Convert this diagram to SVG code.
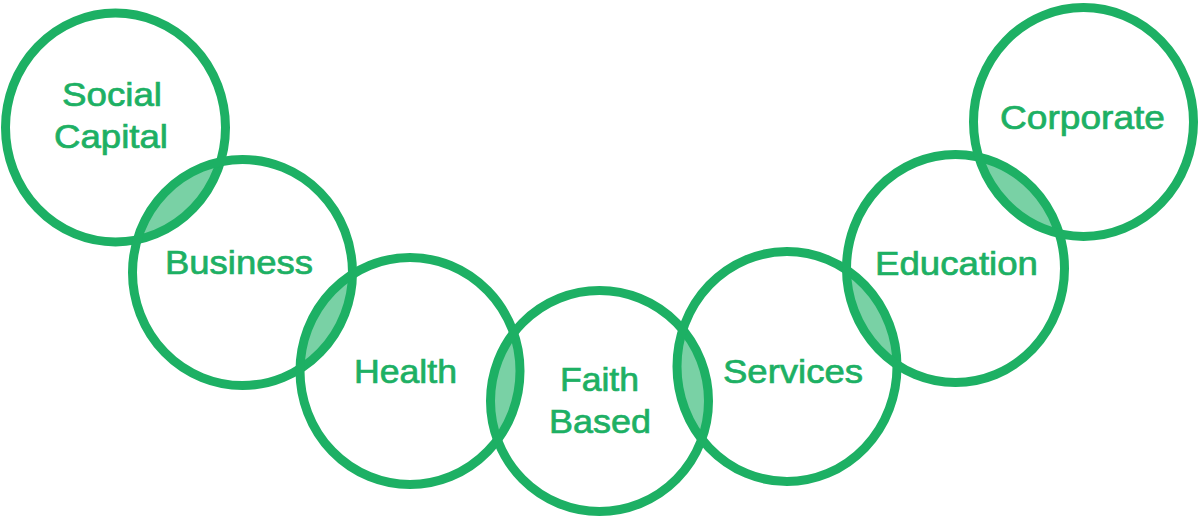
<svg xmlns="http://www.w3.org/2000/svg" width="1200" height="516" viewBox="0 0 1200 516">
<style>
.ring{fill:none;stroke:#1DB064;stroke-width:9}
.lens{fill:#79D1A5}
.lbl{font-family:"Liberation Sans",Arial,sans-serif;font-size:33px;fill:#1DB064;stroke:#1DB064;stroke-width:0.7;text-anchor:middle}
</style>
<defs>
<clipPath id="c1"><ellipse cx="115.5" cy="127.5" rx="110" ry="114.5"/></clipPath>
<clipPath id="c2"><ellipse cx="242.5" cy="272.5" rx="110" ry="113"/></clipPath>
<clipPath id="c3"><ellipse cx="410" cy="371" rx="110" ry="113.5"/></clipPath>
<clipPath id="c4"><ellipse cx="599.5" cy="401" rx="109" ry="110.5"/></clipPath>
<clipPath id="c5"><ellipse cx="787" cy="366.5" rx="110" ry="115"/></clipPath>
<clipPath id="c6"><ellipse cx="955.5" cy="268.5" rx="109" ry="114"/></clipPath>
<clipPath id="c7"><ellipse cx="1083.5" cy="122" rx="110" ry="114.5"/></clipPath>
</defs>
<g id="overlaps">
<ellipse class="lens" cx="242.5" cy="272.5" rx="110" ry="113" clip-path="url(#c1)"/>
<ellipse class="lens" cx="410" cy="371" rx="110" ry="113.5" clip-path="url(#c2)"/>
<ellipse class="lens" cx="599.5" cy="401" rx="109" ry="110.5" clip-path="url(#c3)"/>
<ellipse class="lens" cx="787" cy="366.5" rx="110" ry="115" clip-path="url(#c4)"/>
<ellipse class="lens" cx="955.5" cy="268.5" rx="109" ry="114" clip-path="url(#c5)"/>
<ellipse class="lens" cx="1083.5" cy="122" rx="110" ry="114.5" clip-path="url(#c6)"/>
</g>
<g id="social-capital">
<ellipse class="ring" cx="115.5" cy="127.5" rx="110" ry="114.5"/>
<text class="lbl" x="112" y="106" textLength="100" lengthAdjust="spacingAndGlyphs">Social</text>
<text class="lbl" x="111" y="148" textLength="114" lengthAdjust="spacingAndGlyphs">Capital</text>
</g>
<g id="business">
<ellipse class="ring" cx="242.5" cy="272.5" rx="110" ry="113"/>
<text class="lbl" x="239" y="274" textLength="148" lengthAdjust="spacingAndGlyphs">Business</text>
</g>
<g id="health">
<ellipse class="ring" cx="410" cy="371" rx="110" ry="113.5"/>
<text class="lbl" x="405.5" y="383" textLength="103" lengthAdjust="spacingAndGlyphs">Health</text>
</g>
<g id="faith-based">
<ellipse class="ring" cx="599.5" cy="401" rx="109" ry="110.5"/>
<text class="lbl" x="599.5" y="391" textLength="79" lengthAdjust="spacingAndGlyphs">Faith</text>
<text class="lbl" x="600" y="433" textLength="102" lengthAdjust="spacingAndGlyphs">Based</text>
</g>
<g id="services">
<ellipse class="ring" cx="787" cy="366.5" rx="110" ry="115"/>
<text class="lbl" x="793" y="383" textLength="140" lengthAdjust="spacingAndGlyphs">Services</text>
</g>
<g id="education">
<ellipse class="ring" cx="955.5" cy="268.5" rx="109" ry="114"/>
<text class="lbl" x="956.5" y="275" textLength="163" lengthAdjust="spacingAndGlyphs">Education</text>
</g>
<g id="corporate">
<ellipse class="ring" cx="1083.5" cy="122" rx="110" ry="114.5"/>
<text class="lbl" x="1082.5" y="129" textLength="165" lengthAdjust="spacingAndGlyphs">Corporate</text>
</g>
<g id="connectors"></g>
</svg>
